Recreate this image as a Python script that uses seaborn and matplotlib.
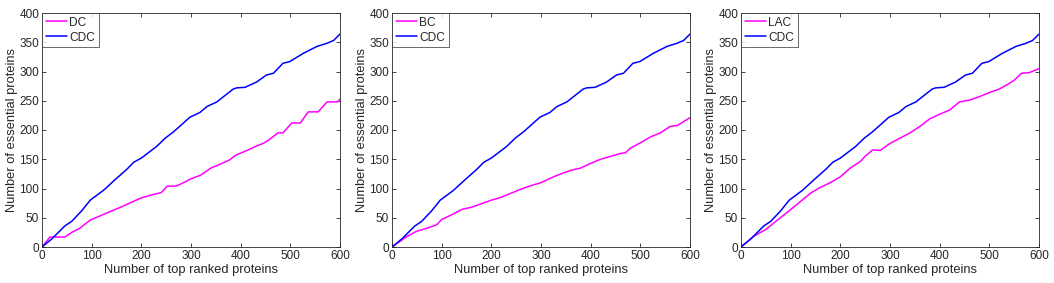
import pandas as pd
import matplotlib.pyplot as plt
import seaborn as sns

# CDC curve (same in all three panels)
cdc_x = [0, 20, 46, 60, 80, 97, 124, 147, 171, 185, 200, 231, 248, 265, 298, 318, 332, 352,
         385, 392, 409, 432, 452, 466, 485, 499, 526, 554, 573, 587, 600]
cdc_y = [0, 14, 36, 44, 62, 80, 97, 115, 133, 145, 152, 172, 186, 197, 222, 230, 240, 248,
         270, 272, 273, 282, 294, 297, 314, 317, 331, 343, 348, 353, 364]

dc_x = [0, 16, 46, 60, 76, 97, 130, 161, 197, 220, 240, 252, 270, 290, 298, 320, 340,
        360, 378, 390, 410, 433, 445, 455, 475, 485, 503, 520, 536, 556, 574, 595, 600]
dc_y = [0, 17, 17, 25, 32, 46, 58, 69, 83, 89, 93, 104, 104, 112, 116, 123, 135,
        142, 149, 157, 164, 173, 177, 182, 195, 195, 212, 212, 231, 231, 248, 248, 253]

bc_x = [0, 30, 50, 70, 90, 100, 120, 140, 160, 180, 200, 220, 240, 260, 280, 300, 320, 340,
        360, 380, 400, 420, 440, 460, 470, 480, 500, 520, 540, 560, 575, 600]
bc_y = [0, 18, 27, 32, 38, 47, 55, 64, 68, 74, 80, 85, 92, 99, 105, 110, 118, 125,
        131, 135, 143, 150, 155, 160, 161, 169, 178, 188, 195, 206, 208, 221]

lac_x = [0, 25, 50, 75, 100, 120, 140, 160, 180, 200, 220, 240, 250, 265, 280, 300, 320, 340,
         360, 380, 400, 420, 440, 460, 480, 500, 520, 535, 550, 565, 580, 600]
lac_y = [0, 18, 30, 47, 64, 78, 92, 102, 110, 120, 135, 146, 155, 166, 165, 177, 186, 195,
         206, 219, 227, 234, 248, 251, 257, 264, 270, 277, 285, 297, 298, 305]

panels = [("DC", dc_x, dc_y), ("BC", bc_x, bc_y), ("LAC", lac_x, lac_y)]
x_ticks = [0, 100, 200, 300, 400, 500, 600]
y_ticks = [0, 50, 100, 150, 200, 250, 300, 350, 400]

sns.set_style("ticks")
plt.rcParams['font.family'] = ['Liberation Sans', 'DejaVu Sans']

fig = plt.figure(figsize=(10.54, 2.83), dpi=100)
lefts = [42, 392, 741]
W, H = 1054, 283

for (name, xs, ys), left in zip(panels, lefts):
    ax = fig.add_axes([left / W, (H - 247) / H, 298 / W, 234 / H])
    df = pd.concat([
        pd.DataFrame({'x': xs, 'y': ys, 'method': name}),
        pd.DataFrame({'x': cdc_x, 'y': cdc_y, 'method': 'CDC'}),
    ])
    sns.lineplot(data=df, x='x', y='y', hue='method', palette={name: '#FF00FF', 'CDC': '#0000FF'},
                 ax=ax, linewidth=1.1, estimator=None, sort=False)
    ax.set_xlim(0, 600)
    ax.set_ylim(0, 400)
    ax.set_xticks(x_ticks)
    ax.set_yticks(y_ticks)
    ax.tick_params(direction='in', length=3, width=0.6, top=True, right=True,
                   labelsize=8.5, colors='#262626', pad=2)
    for s in ax.spines.values():
        s.set_visible(True)
        s.set_linewidth(0.6)
        s.set_color('#262626')
    ax.set_xlabel('Number of top ranked proteins', fontsize=9.3, color='#262626', labelpad=1.5)
    ax.set_ylabel('Number of essential proteins', fontsize=9.3, color='#262626', labelpad=1)
    leg = ax.legend(loc='upper left', frameon=True, fancybox=False, edgecolor='#262626',
                    fontsize=8.6, borderaxespad=0.0, handlelength=1.8, handletextpad=0.2,
                    borderpad=0.3, labelspacing=0.25, title=None)
    leg.get_frame().set_linewidth(0.6)

fig.savefig('out.png', dpi=100)
